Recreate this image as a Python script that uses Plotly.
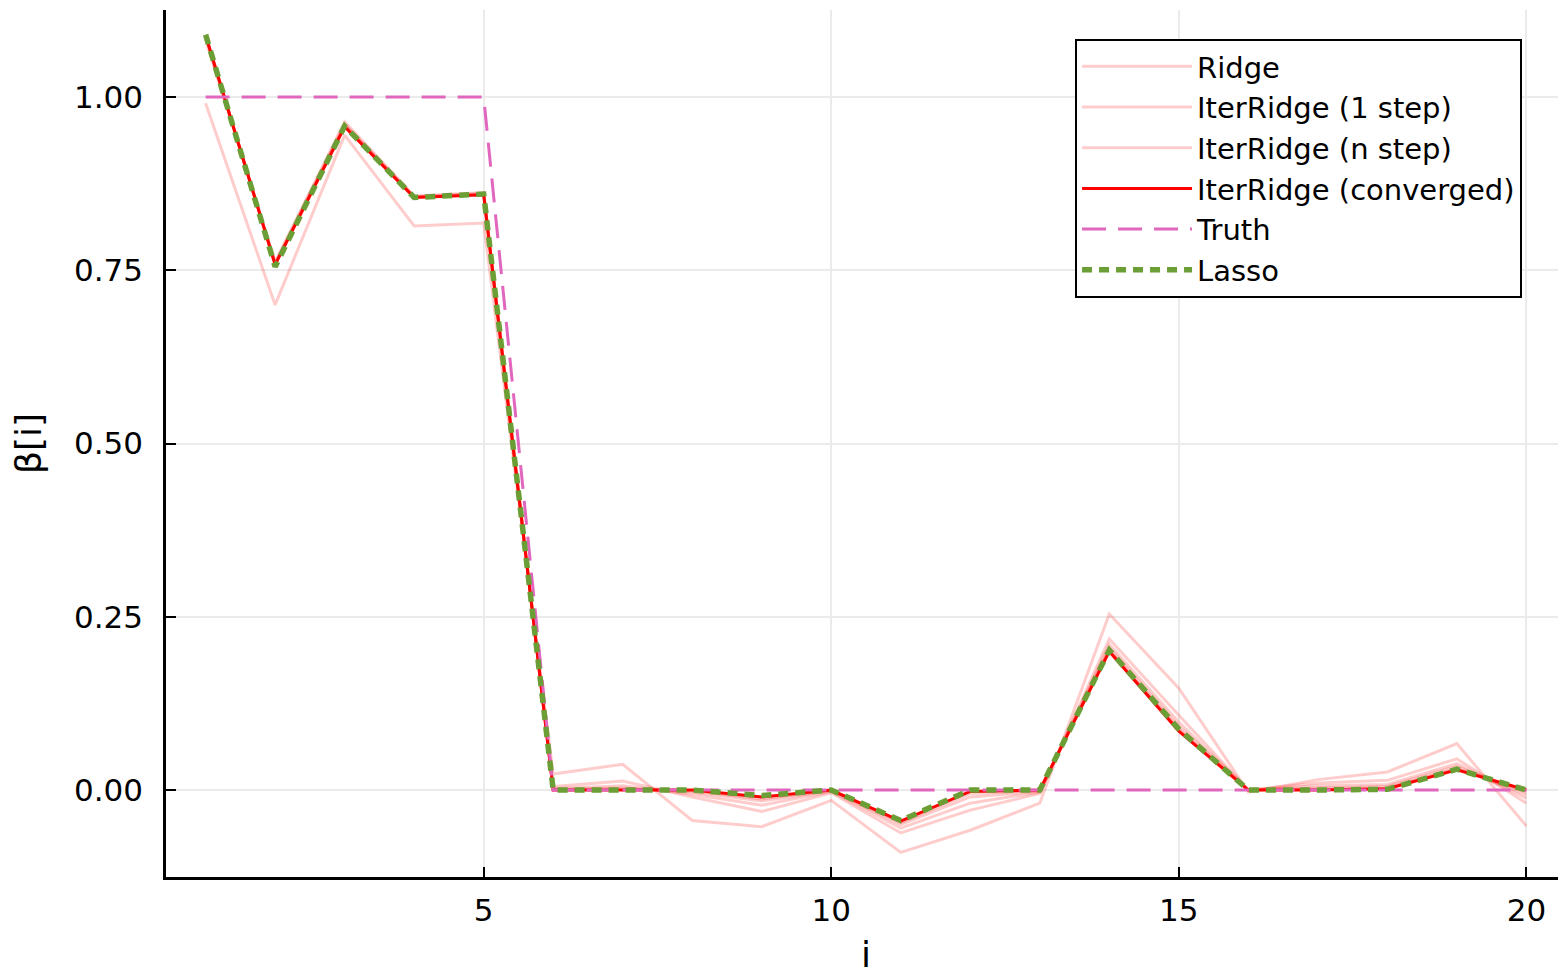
import plotly.graph_objects as go

idx = list(range(1, 21))

ridge = [0.991, 0.700, 0.945, 0.814, 0.818, 0.023, 0.037, -0.044, -0.053, -0.015,
         -0.090, -0.058, -0.019, 0.254, 0.147, -0.003, 0.015, 0.026, 0.067, -0.052]
iter_1step = [1.083, 0.762, 0.964, 0.857, 0.862, 0.005, 0.013, -0.010, -0.031, -0.004,
              -0.062, -0.029, -0.005, 0.218, 0.108, 0.000, 0.010, 0.014, 0.045, -0.019]
iter_nstep_a = [1.087, 0.760, 0.961, 0.856, 0.861, 0.002, 0.006, -0.006, -0.022, -0.002,
                -0.055, -0.019, -0.003, 0.210, 0.098, 0.000, 0.006, 0.008, 0.038, -0.012]
iter_nstep_b = [1.088, 0.759, 0.959, 0.856, 0.860, 0.001, 0.003, -0.003, -0.016, -0.001,
                -0.050, -0.010, -0.002, 0.205, 0.092, 0.000, 0.003, 0.005, 0.034, -0.007]
iter_nstep_c = [1.089, 0.758, 0.958, 0.855, 0.859, 0.000, 0.001, -0.001, -0.013, 0.000,
                -0.047, -0.005, -0.001, 0.202, 0.088, 0.000, 0.001, 0.003, 0.031, -0.003]
iter_converged = [1.089, 0.758, 0.957, 0.855, 0.859, 0.000, 0.000, 0.000, -0.010, 0.000,
                  -0.045, -0.002, 0.000, 0.200, 0.085, 0.000, 0.000, 0.002, 0.029, 0.000]
truth = [1, 1, 1, 1, 1, 0, 0, 0, 0, 0, 0, 0, 0, 0, 0, 0, 0, 0, 0, 0]
lasso = [1.090, 0.755, 0.958, 0.855, 0.860, 0.000, 0.000, 0.000, -0.008, 0.000,
         -0.044, 0.000, 0.000, 0.202, 0.088, 0.000, 0.000, 0.001, 0.030, 0.000]

y_ticks = [0.0, 0.25, 0.5, 0.75, 1.0]
y_tick_labels = ["0.00", "0.25", "0.50", "0.75", "1.00"]
x_ticks = [5, 10, 15, 20]

pale = "rgba(255,0,0,0.2)"
fig = go.Figure()

fig.add_trace(go.Scatter(x=idx, y=ridge, mode="lines", name="Ridge",
                         line=dict(color=pale, width=3)))
fig.add_trace(go.Scatter(x=idx, y=iter_1step, mode="lines", name="IterRidge (1 step)",
                         line=dict(color=pale, width=3)))
fig.add_trace(go.Scatter(x=idx, y=iter_nstep_a, mode="lines", name="IterRidge (n step)",
                         line=dict(color=pale, width=3)))
for ys in (iter_nstep_b, iter_nstep_c):
    fig.add_trace(go.Scatter(x=idx, y=ys, mode="lines", showlegend=False,
                             line=dict(color=pale, width=3)))
fig.add_trace(go.Scatter(x=idx, y=iter_converged, mode="lines", name="IterRidge (converged)",
                         line=dict(color="#ff0000", width=3)))
fig.add_trace(go.Scatter(x=idx, y=truth, mode="lines", name="Truth",
                         line=dict(color="#e066be", width=3, dash="24px,12px")))
fig.add_trace(go.Scatter(x=idx, y=lasso, mode="lines", name="Lasso",
                         line=dict(color="#6b9e35", width=5.5, dash="10px,7px")))

font_family = "DejaVu Sans"
fig.update_layout(
    width=1558, height=967,
    margin=dict(l=158, r=0, t=2, b=98),
    plot_bgcolor="white", paper_bgcolor="white",
    font=dict(family=font_family, color="black", size=29),
    legend=dict(x=0.9686, y=0.9666, xanchor="right", yanchor="top",
                bgcolor="white", bordercolor="black", borderwidth=2,
                font=dict(size=29), itemwidth=110, tracegroupgap=0),
    xaxis=dict(range=[0.43, 20.57], tickvals=x_ticks, ticks="inside", ticklen=10,
               tickwidth=2, tickcolor="black", automargin=False,
               showgrid=True, gridcolor="#ebebeb", gridwidth=1.5,
               showline=True, linecolor="black", linewidth=2.5, zeroline=False,
               tickfont=dict(size=31), ticklabelstandoff=4,
               title=dict(text="i", font=dict(size=36), standoff=24)),
    yaxis=dict(range=[-0.1255, 1.1255], tickvals=y_ticks, ticktext=y_tick_labels,
               ticks="inside", ticklen=10, tickwidth=2, tickcolor="black", automargin=False,
               showgrid=True, gridcolor="#ebebeb", gridwidth=1.5,
               showline=True, linecolor="black", linewidth=2.5, zeroline=False,
               tickfont=dict(size=31), ticklabelstandoff=14,
               title=dict(text="β[i]", font=dict(size=36), standoff=40)),
)

fig.write_html("out.html")
